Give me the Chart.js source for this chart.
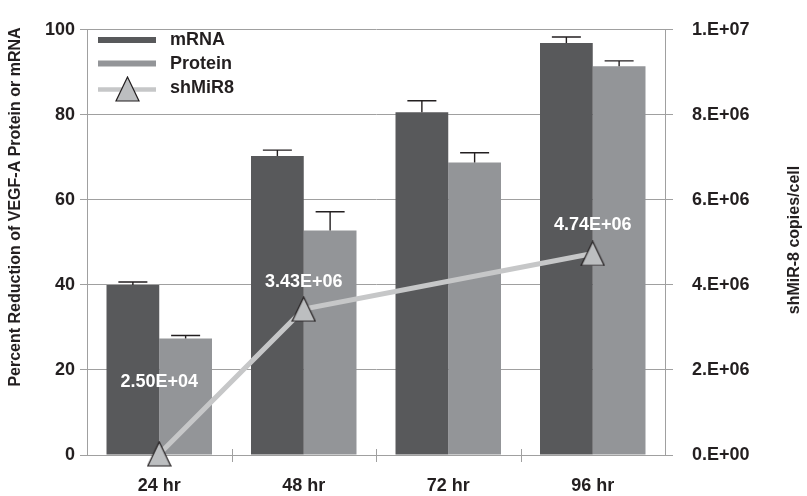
<!DOCTYPE html>
<html>
<head>
<meta charset="utf-8">
<script src="https://cdn.jsdelivr.net/npm/chart.js@4/dist/chart.umd.min.js"></script>
<style>
html,body{margin:0;padding:0;background:#fff;}
#wrap{width:807px;height:496px;}
</style>
</head>
<body>
<div id="wrap"><canvas id="c" width="807" height="496"></canvas></div>
<script>
// ---- data ----
const categories = ["24 hr", "48 hr", "72 hr", "96 hr"];
const mrnaValues = [40.0, 70.3, 80.6, 96.9];
const mrnaErrors = [0.7, 1.4, 2.7, 1.4];
const proteinValues = [27.4, 52.8, 68.8, 91.4];
const proteinErrors = [0.7, 4.4, 2.3, 1.3];
const shmirValues = [2.50e4, 3.43e6, null, 4.74e6];
const shmirLabels = ["2.50E+04", "3.43E+06", "", "4.74E+06"];
const leftTicks = [0, 20, 40, 60, 80, 100];
const rightTicks = ["0.E+00", "2.E+06", "4.E+06", "6.E+06", "8.E+06", "1.E+07"];
const seriesNames = ["mRNA", "Protein", "shMiR8"];
const leftTitle = "Percent Reduction of VEGF-A Protein or mRNA";
const rightTitle = "shMiR-8 copies/cell";

// ---- styles ----
const FONT = '"Liberation Sans", Arial, sans-serif';
const TXT = '#231f20';
const GRID = '#a0a0a0';
const C_MRNA = '#58595b';
const C_PROT = '#939598';
const C_LINE = '#c6c7c8';
const C_TRI = '#bcbec0';

function makeTriangle() {
  const cv = document.createElement('canvas');
  cv.width = 25; cv.height = 26;
  const g = cv.getContext('2d');
  g.beginPath();
  g.moveTo(12.5, 1);
  g.lineTo(24, 25);
  g.lineTo(1, 25);
  g.closePath();
  g.fillStyle = C_TRI;
  g.fill();
  g.lineWidth = 1.2;
  g.strokeStyle = TXT;
  g.stroke();
  return cv;
}
const tri = makeTriangle();

const labelOffsets = [72, 27, 0, 28];

const extras = {
  id: 'extras',
  afterDatasetsDraw(chart) {
    const ctx = chart.ctx;
    const y = chart.scales.y;
    // error bars
    [[0, mrnaValues, mrnaErrors], [1, proteinValues, proteinErrors]].forEach(([di, vals, errs]) => {
      const meta = chart.getDatasetMeta(di + 1);
      meta.data.forEach((bar, i) => {
        const x = bar.x;
        const y0 = y.getPixelForValue(vals[i]);
        const y1 = y.getPixelForValue(vals[i] + errs[i]);
        ctx.save();
        ctx.strokeStyle = TXT;
        ctx.lineWidth = 1.4;
        ctx.beginPath();
        ctx.moveTo(x, y0);
        ctx.lineTo(x, y1);
        ctx.moveTo(x - 14.5, y1);
        ctx.lineTo(x + 14.5, y1);
        ctx.stroke();
        ctx.restore();
      });
    });
    // data labels
    const lm = chart.getDatasetMeta(0);
    ctx.save();
    ctx.font = 'bold 18px ' + FONT;
    ctx.fillStyle = '#ffffff';
    ctx.textAlign = 'center';
    ctx.textBaseline = 'middle';
    lm.data.forEach((pt, i) => {
      if (shmirValues[i] === null) return;
      ctx.fillText(shmirLabels[i], pt.x, pt.y - labelOffsets[i]);
    });
    ctx.restore();
  },
  afterDraw(chart) {
    const ctx = chart.ctx;
    const a = chart.chartArea;
    ctx.save();
    // x boundary marks
    ctx.strokeStyle = GRID;
    ctx.lineWidth = 1;
    const step = (a.right - a.left) / categories.length;
    for (let i = 1; i < categories.length; i++) {
      const x = Math.round(a.left + step * i) + 0.5;
      ctx.beginPath();
      ctx.moveTo(x, a.bottom - 6);
      ctx.lineTo(x, a.bottom + 7);
      ctx.stroke();
    }
    // axis titles
    ctx.fillStyle = TXT;
    ctx.font = 'bold 16px ' + FONT;
    ctx.textAlign = 'center';
    ctx.textBaseline = 'middle';
    ctx.save();
    ctx.translate(16, 207);
    ctx.rotate(-Math.PI / 2);
    ctx.fillText(leftTitle, 0, 0);
    ctx.restore();
    ctx.save();
    ctx.translate(795, 240);
    ctx.rotate(-Math.PI / 2);
    ctx.fillText(rightTitle, 0, 0);
    ctx.restore();
    // legend
    const items = [
      {name: seriesNames[0], color: C_MRNA, w: 6, ly: 40, ty: 45},
      {name: seriesNames[1], color: C_PROT, w: 6, ly: 63.5, ty: 69},
      {name: seriesNames[2], color: C_LINE, w: 4.5, ly: 89.5, ty: 93, tri: true}
    ];
    items.forEach(it => {
      ctx.strokeStyle = it.color;
      ctx.lineWidth = it.w;
      ctx.beginPath();
      ctx.moveTo(98, it.ly);
      ctx.lineTo(156, it.ly);
      ctx.stroke();
      if (it.tri) ctx.drawImage(tri, 127.5 - 12.5, 89 - 13);
      ctx.fillStyle = TXT;
      ctx.font = 'bold 18px ' + FONT;
      ctx.textAlign = 'left';
      ctx.textBaseline = 'alphabetic';
      ctx.fillText(it.name, 170, it.ty);
    });
    ctx.restore();
  }
};

new Chart(document.getElementById('c'), {
  type: 'bar',
  data: {
    labels: categories,
    datasets: [
      {
        type: 'line',
        label: seriesNames[2],
        data: shmirValues,
        yAxisID: 'y2',
        borderColor: C_LINE,
        borderWidth: 5,
        pointStyle: tri,
        pointRadius: 12,
        spanGaps: true,
        fill: false,
        tension: 0,
        clip: false,
        order: 0
      },
      {
        label: seriesNames[0],
        data: mrnaValues,
        backgroundColor: C_MRNA,
        categoryPercentage: 0.73,
        barPercentage: 1.0,
        yAxisID: 'y',
        order: 1
      },
      {
        label: seriesNames[1],
        data: proteinValues,
        backgroundColor: C_PROT,
        categoryPercentage: 0.73,
        barPercentage: 1.0,
        yAxisID: 'y',
        order: 2
      }
    ]
  },
  options: {
    responsive: false,
    animation: false,
    events: [],
    layout: {padding: {top: 22, left: 0, right: 0, bottom: 0}},
    plugins: {legend: {display: false}, tooltip: {enabled: false}},
    scales: {
      x: {
        offset: true,
        grid: {display: true, drawOnChartArea: false, drawTicks: false},
        border: {display: true, color: GRID, width: 1},
        ticks: {color: TXT, font: {family: FONT, size: 18, weight: 'bold'}, padding: 20, maxRotation: 0},
        afterFit(s) { s.height = 41; }
      },
      y: {
        position: 'left',
        min: 0, max: 100,
        afterBuildTicks(s) { s.ticks = leftTicks.map(v => ({value: v})); },
        grid: {color: GRID, lineWidth: 1, tickLength: 7, drawTicks: true},
        border: {display: true, color: GRID, width: 1},
        ticks: {color: TXT, font: {family: FONT, size: 18, weight: 'bold'}, padding: 5},
        afterFit(s) { s.width = 87; }
      },
      y2: {
        position: 'right',
        min: 0, max: 1e7,
        afterBuildTicks(s) { s.ticks = rightTicks.map((t, i) => ({value: i * 2e6})); },
        grid: {drawOnChartArea: false, color: GRID, tickLength: 8, drawTicks: true},
        border: {display: true, color: GRID, width: 1},
        ticks: {
          color: TXT, font: {family: FONT, size: 18, weight: 'bold'}, padding: 19,
          callback: (v, i) => rightTicks[i]
        },
        afterFit(s) { s.width = 142; }
      }
    }
  },
  plugins: [extras]
});
</script>
</body>
</html>
